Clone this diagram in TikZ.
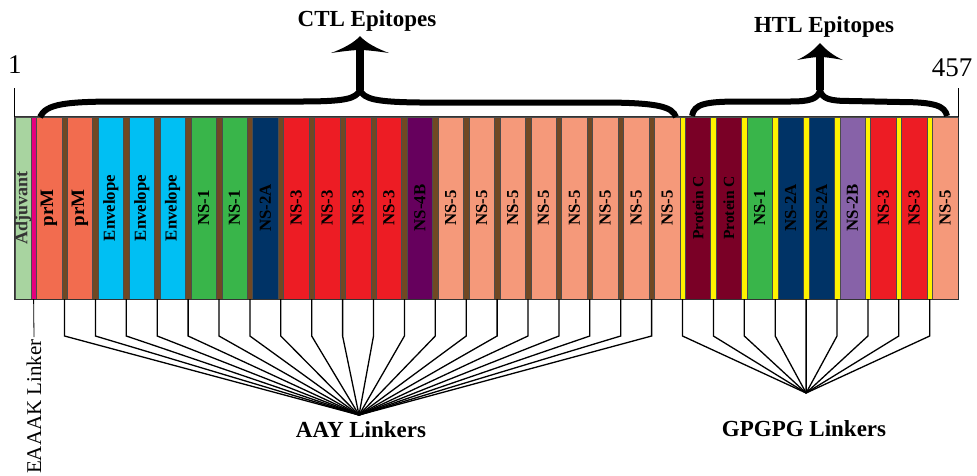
\documentclass[tikz,border=0pt]{standalone}
\usepackage{fontspec}
\setmainfont{Liberation Serif}
\usetikzlibrary{positioning}

\definecolor{adjgreen}{RGB}{168,212,160}
\definecolor{eaaak}{RGB}{230,0,126}
\definecolor{aay}{RGB}{112,72,35}
\definecolor{gpg}{RGB}{255,242,0}
\definecolor{prm}{RGB}{242,108,79}
\definecolor{env}{RGB}{0,191,243}
\definecolor{nsone}{RGB}{57,181,74}
\definecolor{nstwoa}{RGB}{0,51,102}
\definecolor{nstwob}{RGB}{135,98,168}
\definecolor{nsthree}{RGB}{237,28,36}
\definecolor{nsfourb}{RGB}{102,0,93}
\definecolor{nsfive}{RGB}{245,153,122}
\definecolor{protc}{RGB}{122,0,38}

\newcommand{\segbig}{\fontsize{19}{19}\selectfont}
\newcommand{\segsmall}{\fontsize{15.5}{15.5}\selectfont}

\tikzset{
        seg/.style={draw=black!70, line width=0.5pt, minimum width=25.4pt, minimum height=182pt, inner sep=0pt},
        lnk/.style={draw=black!70, line width=0.4pt, minimum width=5.5pt, minimum height=182pt, inner sep=0pt},
        seglbl/.style={rotate=90, font=\bfseries\fontsize{16.8}{16.8}\selectfont, inner sep=0pt},
        title/.style={font=\bfseries\fontsize{23}{23}\selectfont},
        num/.style={font=\fontsize{27}{27}\selectfont, inner sep=0pt},
        wire/.style={line width=1.3pt},
        brace/.style={line width=6pt},
}

\begin{document}
\begin{tikzpicture}[x=1pt, y=-1pt]
        \useasboundingbox (0,0) rectangle (977,475);

        % the construct, left to right
        \node[seg, fill=adjgreen, minimum width=15.85pt, label={[seglbl, text=black!80]center:\fontsize{18}{18}\selectfont Adjuvant}] (adj) at (22.93,208) {};
        \foreach \i/\txt/\col in {1/\segbig prM/prm, 2/\segbig prM/prm, 3/Envelope/env, 4/Envelope/env, 5/Envelope/env,
                6/NS-1/nsone, 7/NS-1/nsone, 8/NS-2A/nstwoa, 9/NS-3/nsthree, 10/NS-3/nsthree, 11/NS-3/nsthree,
                12/NS-3/nsthree, 13/NS-4B/nsfourb, 14/NS-5/nsfive, 15/NS-5/nsfive, 16/NS-5/nsfive, 17/NS-5/nsfive,
                18/NS-5/nsfive, 19/NS-5/nsfive, 20/NS-5/nsfive, 21/NS-5/nsfive, 22/\segsmall Protein C/protc, 23/\segsmall Protein C/protc,
                24/NS-1/nsone, 25/NS-2A/nstwoa, 26/NS-2A/nstwoa, 27/NS-2B/nstwob, 28/NS-3/nsthree, 29/NS-3/nsthree,
                30/NS-5/nsfive}
                \node[seg, fill=\col, label={[seglbl]center:\txt}] (ep\i) at (18.15+30.9*\i,208) {};

        % linkers
        \node[lnk, fill=eaaak] (lk0) at (33.6,208) {};
        \foreach \k in {1,...,20} \node[lnk, fill=aay] (lk\k) at (33.6+30.9*\k,208) {};
        \foreach \k in {21,...,29} \node[lnk, fill=gpg] (lk\k) at (33.6+30.9*\k,208) {};
        \draw[line width=0.8pt, black!80] (adj.north west) rectangle (ep30.south east);

        \draw[line width=1pt] (adj.north west) -- ++(0,-29) coordinate (t1);
        \node[num, above=14pt of t1] (one) {1};
        \draw[line width=1pt] (ep30.north east) -- ++(0,-29) coordinate (t457);
        \node[num, above=11pt of t457, xshift=-6pt] (last) {457};

        % braces and arrows
        \coordinate (ctl) at (360,90);
        \coordinate (ctlbase) at (360,50);
        \coordinate (htl) at (820,90);
        \coordinate (htlbase) at (820,57);
        \draw[brace] (40,117) .. controls (46,104) and (65,101.5) .. (120,101.5) -- (300,101.5)
                .. controls (345,101.5) and (356,99) .. (ctl) .. controls (364,99) and (375,102) .. (420,102.5)
                -- (600,102.5) .. controls (660,102.5) and (672,107) .. (676,117);
        \draw[brace] (692,116) .. controls (694,104) and (705,101.5) .. (740,101.5) -- (790,101.5)
                .. controls (810,101.5) and (818,99) .. (htl) .. controls (822,99) and (830,101) .. (850,101)
                -- (900,102) .. controls (935,102) and (945,106) .. (947,116);
        \draw[line width=8pt] (ctl) -- (ctlbase);
        \draw[line width=8pt] (htl) -- (htlbase);
        \fill[shift={(ctlbase)}] (0,-14) .. controls (-6,-7) and (-18,-1) .. (-29,3) .. controls (-15,1) and (-6,0) .. (0,0)
                .. controls (6,0) and (15,1) .. (29,3) .. controls (18,-1) and (6,-7) .. (0,-14);
        \fill[shift={(htlbase)}] (0,-14) .. controls (-6,-7) and (-14,-1) .. (-23,3) .. controls (-12,1) and (-5,0) .. (0,0)
                .. controls (5,0) and (12,1) .. (23,3) .. controls (14,-1) and (6,-7) .. (0,-14);
        \node[title] (ctlt) at (367,21) {CTL Epitopes};
        \node[title] (htlt) at (824,27) {HTL Epitopes};

        % linker labels below
        \coordinate (knee) at (0,336);
        \coordinate (aay) at (359,415);
        \coordinate (gpg) at (806.1,393);
        \foreach \k in {1,...,20} \draw[wire] (lk\k.south) -- (lk\k.south |- knee) -- (aay);
        \foreach \k in {21,...,29} \draw[wire] (lk\k.south) -- (lk\k.south |- knee) -- (gpg);
        \node[title] (aayt) at (361,430) {AAY Linkers};
        \node[title] (gpgt) at (804,429) {GPGPG Linkers};
        \node[rotate=90, anchor=east, font=\fontsize{21}{21}\selectfont, inner sep=2pt] (eaaakt) at (34,337) {EAAAK Linker};
        \draw[line width=0.8pt] (lk0.south) -- (eaaakt.east);
\end{tikzpicture}
\end{document}
